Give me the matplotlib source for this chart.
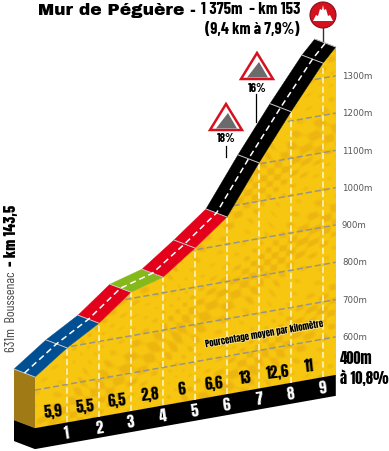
import numpy as np
import matplotlib
matplotlib.use('Agg')
import matplotlib.pyplot as plt
from matplotlib.patches import Polygon, Circle
import matplotlib.patheffects as pe

# profile
km = [0, 1, 2, 3, 4, 5, 6, 7, 8, 9, 9.4]
alt = [635, 698, 749, 817, 842, 905, 973, 1103, 1225, 1340, 1377]
pct = ['5,9', '5,5', '6,5', '2,8', '6', '6,6', '13', '12,6', '11']
seg_colors = ['#004f93', '#004f93', '#e2001a', '#85b81a', '#e2001a', '#e2001a',
              '#000000', '#000000', '#000000', '#000000']
grid_alt = [600, 700, 800, 900, 1000, 1100, 1200, 1300]

impact = ['Anton', 'Barlow Condensed', 'Liberation Sans Narrow', 'DejaVu Sans']
narrow = ['Barlow Condensed', 'Liberation Sans Narrow', 'Liberation Sans', 'DejaVu Sans']
heavy = ['Archivo Black', 'DejaVu Sans']


# the sheared drawing: x from km, y from altitude, tilted by the base slope
def xp(k):
    return 35 + 32 * np.asarray(k, dtype=float)


def yp(a, x):
    return 337 - 0.373 * (np.asarray(a, dtype=float) - 600) + 0.177 * (335 - x)


def base(x):
    return 375 + 0.177 * (335 - x)


fig = plt.figure(figsize=(3.89, 4.51), dpi=100)
ax = fig.add_axes([0, 0, 1, 1])
ax.set_xlim(0, 389)
ax.set_ylim(451, 0)
ax.axis('off')

xs = xp(km)
ys = yp(alt, xs)
dx, dy = -21, -8
x0, x1 = xs[0], xs[-1]

# yellow face with a soft relief
face = Polygon(list(zip(xs, ys)) + [(x1, base(x1)), (x0, base(x0))], closed=True,
               fc='#f7c40f', ec='none', zorder=1)
ax.add_patch(face)
gx, gy = np.meshgrid(np.arange(0, 389), np.arange(0, 451))
relief = (np.sin(gx * 0.41 + gy * 0.33 + 3 * np.sin(gy * 0.083 + gx * 0.037))
          + np.sin(gx * 0.23 - gy * 0.47 + 3 * np.sin(gx * 0.071))
          + np.sin(gx * 0.053 + gy * 0.071)) / 3
col0 = np.array([0.97, 0.78, 0.07])
col1 = np.array([0.93, 0.71, 0.06])
tex = col0 + (col1 - col0) * np.clip(relief * 1.6, 0, 1)[..., None]
im = ax.imshow(tex, extent=(0, 389, 451, 0), zorder=1.1, interpolation='bilinear', aspect='auto')
im.set_clip_path(face)
ax.set_xlim(0, 389)
ax.set_ylim(451, 0)

# left face and black base
ax.add_patch(Polygon([(x0 + dx, ys[0] + dy), (x0, ys[0]), (x0, base(x0)), (x0 + dx, base(x0) + dy)],
                     fc='#a07a14', ec='none', zorder=2))
ax.add_patch(Polygon([(x0, base(x0)), (x1, base(x1)), (x1, base(x1) + 21), (x0, base(x0) + 21),
                      (x0 + dx, base(x0) + dy + 21), (x0 + dx, base(x0) + dy)],
                     fc='black', ec='none', zorder=2))

# altitude lines
for a in grid_alt:
    gx_line = np.array([x0, x1])
    ln, = ax.plot(gx_line, yp(a, gx_line), color='#979585', lw=1.1, ls=(0, (4, 2)), zorder=3)
    ln.set_clip_path(face)

# km dashes
for k in km[1:-1]:
    x = xp(k)
    ax.plot([x, x], [base(x), yp(alt[km.index(k)], x)], color='#fff6d0', lw=1.1,
            ls=(0, (4, 2.2)), zorder=4)

# road
for i, c in enumerate(seg_colors):
    ax.add_patch(Polygon([(xs[i], ys[i]), (xs[i + 1], ys[i + 1]),
                          (xs[i + 1] + dx, ys[i + 1] + dy), (xs[i] + dx, ys[i] + dy)],
                         fc=c, ec=c, lw=0.3, zorder=5))
for i in range(len(xs)):
    ax.plot([xs[i], xs[i] + dx], [ys[i], ys[i] + dy], color='#c9c9c9', lw=0.7, zorder=6)
ax.plot(xs + dx / 2, ys + dy / 2, color='white', lw=1.1, ls=(0, (4, 2.5)), zorder=7)

# numbers on the face and base
for i, p in enumerate(pct):
    x = xp(km[i] + 0.58)
    ax.text(x, base(x) - 13, p, family=impact, fontsize=11, color='black',
            ha='center', va='center', rotation=6, zorder=8)
for k in km[1:-1]:
    x = xp(k)
    ax.text(x, base(x) + 11, str(k), family=impact, fontsize=11, color='white',
            ha='center', va='center', rotation=8, zorder=8)

# altitude labels
for a in grid_alt:
    ax.text(342, yp(a, 335) + 0.5, f'{a}m', fontsize=6.2, color='#555555', ha='left', va='center',
            family='DejaVu Sans', zorder=8)
ax.text(340, 359, '400m', family=impact, fontsize=10.5, ha='left', va='center')
ax.text(340, 378, 'à 10,8%', family=impact, fontsize=10.5, ha='left', va='center')

ax.text(264, 333, 'Pourcentage moyen par kilomètre', family=impact, fontsize=6.3,
        rotation=10, ha='center', va='center', zorder=8,
        path_effects=[pe.withStroke(linewidth=1.2, foreground='#fbe58a')])

# title
ax.text(38, 10, 'Mur de Péguère -', family=heavy, fontsize=12.3, ha='left', va='center')
ax.text(201, 10, '1 375m  - km 153', family=narrow, fontsize=12.3, fontweight=700, ha='left', va='center')
ax.text(300, 29, '(9,4 km à 7,9%)', family=narrow, fontsize=11.8, fontweight=700, ha='right', va='center')

# rotated start label
ax.text(12, 352, '631m  Boussenac', family=narrow, fontsize=10, color='#444444', rotation=90,
        ha='center', va='bottom')
ax.text(12, 266, '- km 143,5', family=narrow, fontsize=11.5, fontweight=800, rotation=90,
        ha='center', va='bottom')


# gradient signs
def sign(cx, top, label):
    ax.add_patch(Polygon([(cx, top + 1), (cx + 16, top + 27), (cx - 16, top + 27)], fc='white',
                         ec='#d6101f', lw=1.8, joinstyle='miter', zorder=8))
    ax.add_patch(Polygon([(cx - 10, top + 25.5), (cx + 2, top + 10), (cx + 11, top + 25.5)], fc='#6b6b6b',
                         ec='none', zorder=9))
    ax.text(cx, top + 36, label, family=narrow, fontsize=9, fontweight=700, ha='center', va='center')


sign(257, 52, '16%')
sign(226, 103, '18%')
ax.plot([256, 256], [94, 122], color='black', lw=0.9, zorder=4)
ax.plot([226, 226], [146, 157], color='black', lw=0.9, zorder=4)

# summit badge
ax.plot([323, 323], [27, 44], color='#333333', lw=1, zorder=4)
ax.add_patch(Circle((323, 15), 13, fc='#d5101f', ec='#8a0f14', lw=0.8, zorder=8))
ax.add_patch(Polygon([(313, 21), (316, 15), (318, 16), (320, 9), (322, 10), (323, 5), (324, 10), (326, 9),
                      (328, 16), (330, 15), (333, 21)], fc='white', ec='none', zorder=9))

fig.savefig('out.png', dpi=100)
